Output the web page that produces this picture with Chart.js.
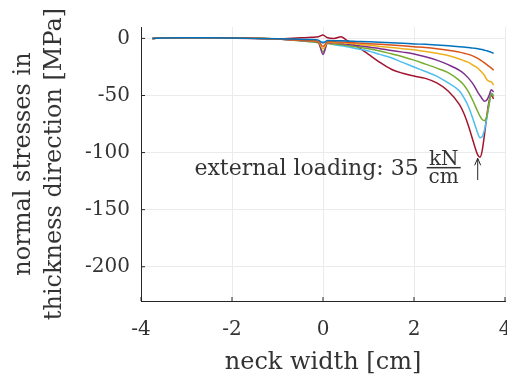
<!DOCTYPE html>
<html>
<head>
<meta charset="utf-8">
<script src="https://cdn.jsdelivr.net/npm/chart.js@4"></script>
<style>
  html, body { margin: 0; padding: 0; background: #fff; }
  #wrap { width: 507px; height: 374px; }
</style>
</head>
<body>
<div id="wrap"><canvas id="myChart" width="507" height="374"></canvas></div>
<script>
// neck width positions [cm]
var neckWidth = [-3.75, -3.5, -3, -2.5, -2, -1.5, -1, -0.5, -0.25, -0.1, 0, 0.1, 0.25, 0.4, 0.5, 0.75, 1, 1.25, 1.5, 1.75, 2, 2.25, 2.5, 2.75, 3, 3.1, 3.2, 3.3, 3.4, 3.45, 3.5, 3.55, 3.6, 3.65, 3.7, 3.75];

// normal stresses [MPa], one series per load step
var s1 = [0, 0.3, 0.5, 0.5, 0.3, 0, -0.3, -0.8, -1, -1.5, -4, -1.8, -2, -2, -2.2, -2.6, -3, -3.3, -3.7, -4.2, -4.8, -5.2, -5.8, -6.4, -7.2, -7.6, -8, -8.5, -9, -9.4, -9.8, -10.3, -10.8, -11.5, -12.2, -13];
var s2 = [0, 0.3, 0.6, 0.6, 0.5, 0.2, -0.5, -1.5, -2, -2.5, -7, -3, -3, -3.2, -3.4, -4, -4.6, -5.2, -5.8, -6.5, -7.3, -8, -9, -10.3, -12, -13, -14, -15.5, -17.5, -18.7, -20, -21.5, -23, -24.5, -26, -28];
var s3 = [0, 0.3, 0.6, 0.6, 0.5, 0.2, -0.5, -1.5, -2.2, -3, -9, -3.5, -3.7, -3.8, -4, -5, -6, -7, -8, -9, -10, -11.5, -13, -15, -18, -19.5, -21, -23.5, -26, -28, -30, -32.5, -36, -37.5, -38, -41];
var s4 = [0, 0.3, 0.6, 0.6, 0.5, 0.2, -0.5, -1.8, -2.5, -3.5, -14, -4, -4, -4.5, -5, -6.2, -7.5, -9, -10.5, -12, -13.6, -16, -19, -23, -28, -31, -35, -40, -47, -50, -53, -55, -54, -50, -45, -47];
var s5 = [0, 0.3, 0.6, 0.6, 0.5, 0.2, -0.5, -2, -3, -4, -12, -4.5, -5, -5.5, -6, -7.5, -9, -11, -13.5, -16, -19, -22.5, -26, -30, -37, -41, -47, -55, -64, -68, -71, -72, -68, -58, -48, -51];
var s6 = [0, 0.3, 0.6, 0.6, 0.5, 0.2, -0.5, -2, -3, -3.5, -3, -4, -5.5, -6.5, -7, -9, -11, -14, -17, -21, -25, -29, -33, -39, -46, -52, -60, -71, -83, -87, -86, -80, -70, -58, -48, -50];
var s7 = [0, 0.2, 0.3, 0.3, 0.2, 0, -0.5, 0.5, 1, 1.5, 3, 0.5, 0, 1.5, -1, -7, -14, -21, -27, -30.5, -33, -35, -39, -46, -58, -66, -77, -90, -102, -104, -98, -84, -68, -55, -50, -53];

var seriesColors = ['#0072BD', '#D95319', '#EDB120', '#7E2F8E', '#77AC30', '#4DBEEE', '#A2142F'];

var xTicks = [-4, -2, 0, 2, 4];
var yTicks = [0, -50, -100, -150, -200];

// annotation anchor in data units
var arrowX = 3.4;
var arrowFromY = -124;
var arrowToY = -105;

var fontFamily = "'DejaVu Serif', 'Liberation Serif', serif";
var inkColor = '#262626';
var textColor = '#333333';

var allSeries = [s1, s2, s3, s4, s5, s6, s7];
var datasets = allSeries.map(function(vals, i) {
    return {
        data: vals.map(function(v, j) { return { x: neckWidth[j], y: v }; }),
        borderColor: seriesColors[i],
        borderWidth: 1.5,
        pointRadius: 0,
        fill: false,
        cubicInterpolationMode: 'monotone'
    };
});

// arrow + text annotation, and inward tick marks
var annotationPlugin = {
    id: 'annot',
    afterDatasetsDraw: function(chart) {
        var ctx = chart.ctx;
        var xs = chart.scales.x, ys = chart.scales.y;
        var ax = xs.getPixelForValue(arrowX);
        var y0 = ys.getPixelForValue(arrowFromY);
        var y1 = ys.getPixelForValue(arrowToY);
        ctx.save();
        ctx.strokeStyle = inkColor;
        ctx.fillStyle = textColor;
        ctx.lineWidth = 1;
        ctx.beginPath();
        ctx.moveTo(ax, y0);
        ctx.lineTo(ax, y1);
        ctx.moveTo(ax - 3, y1 + 7);
        ctx.lineTo(ax, y1);
        ctx.lineTo(ax + 3, y1 + 7);
        ctx.stroke();

        // fraction kN / cm
        var midY = ys.getPixelForValue(-113);
        var fracX = ax - 34;
        ctx.font = '20px ' + fontFamily;
        ctx.textAlign = 'center';
        ctx.textBaseline = 'alphabetic';
        ctx.fillText('kN', fracX, midY - 2);
        ctx.fillText('cm', fracX, midY + 16);
        ctx.fillRect(fracX - 17, midY - 0.5, 34, 1.5);
        ctx.font = '22px ' + fontFamily;
        ctx.textAlign = 'right';
        ctx.fillText('external loading: 35', fracX - 25, midY + 8);

        // inward tick marks (MATLAB style)
        var area = chart.chartArea;
        ctx.beginPath();
        xTicks.forEach(function(t) {
            var px = xs.getPixelForValue(t);
            ctx.moveTo(px, area.bottom);
            ctx.lineTo(px, area.bottom - 4);
        });
        yTicks.forEach(function(t) {
            var py = ys.getPixelForValue(t);
            ctx.moveTo(area.left, py);
            ctx.lineTo(area.left + 4, py);
        });
        ctx.stroke();
        ctx.restore();
    }
};

new Chart(document.getElementById('myChart').getContext('2d'), {
    type: 'line',
    data: { datasets: datasets },
    plugins: [annotationPlugin],
    options: {
        responsive: false,
        animation: false,
        layout: { padding: { top: 27, right: 2, left: 0, bottom: 0 } },
        plugins: { legend: { display: false }, tooltip: { enabled: false } },
        scales: {
            x: {
                type: 'linear',
                min: -4, max: 4,
                afterBuildTicks: function(s) { s.ticks = xTicks.map(function(v) { return { value: v }; }); },
                afterFit: function(s) { s.height = 73; s.paddingLeft = 0; s.paddingRight = 0; },
                grid: { color: '#ebebeb', drawTicks: false },
                border: { color: inkColor, width: 1 },
                ticks: { color: textColor, font: { family: fontFamily, size: 20 }, padding: 17, maxRotation: 0 },
                title: { display: true, text: 'neck width [cm]', color: textColor, font: { family: fontFamily, size: 24 }, padding: { top: 0, bottom: -3 } }
            },
            y: {
                min: -230, max: 10,
                afterBuildTicks: function(s) { s.ticks = yTicks.map(function(v) { return { value: v }; }); },
                afterFit: function(s) { s.width = 141; s.paddingTop = 0; s.paddingBottom = 0; },
                grid: { color: '#ebebeb', drawTicks: false },
                border: { color: inkColor, width: 1 },
                ticks: { color: textColor, font: { family: fontFamily, size: 20 }, padding: 11 },
                title: { display: true, text: ['normal stresses in', 'thickness direction [MPa]'], color: textColor, font: { family: fontFamily, size: 24, lineHeight: 1.3 }, padding: { top: 8, bottom: 0 } }
            }
        }
    }
});
</script>
</body>
</html>
